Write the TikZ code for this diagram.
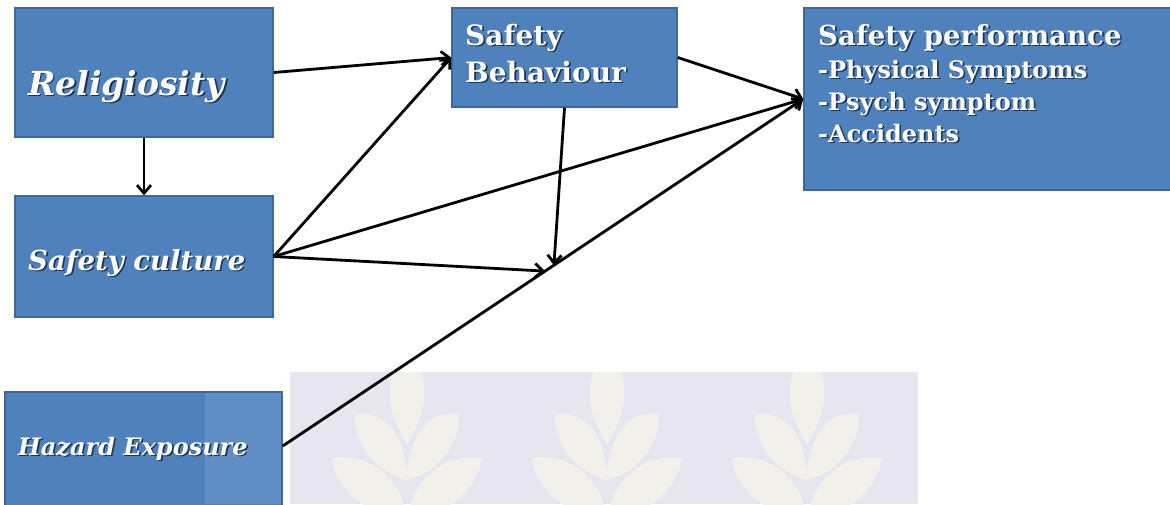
\documentclass[tikz,border=0pt]{standalone}
\usepackage{fontspec}
\setmainfont{DejaVu Serif}
\usetikzlibrary{arrows.meta,calc}

\definecolor{boxblue}{HTML}{4F81BD}
\definecolor{boxedge}{HTML}{3F6899}
\definecolor{wmback}{HTML}{E7E6F0}
\definecolor{wmleaf}{HTML}{F2F0EA}
\definecolor{txtshadow}{HTML}{1F3350}

% white text with a small dark drop shadow
\newcommand\shd[1]{\rlap{\kern1.6pt\raisebox{-1.6pt}{\textcolor{txtshadow}{#1}}}#1}

\tikzset{
  box/.style={draw=boxedge, line width=1.5pt, fill=boxblue, rectangle, inner sep=0pt},
  lbl/.style={anchor=base west, inner sep=0pt, text=white},
  arr/.style={draw=black, line width=2.8pt, -{Straight Barb[length=8pt,width=14pt]}},
  leafshape/.style={fill=wmleaf, draw=none},
}

\begin{document}
\begin{tikzpicture}[x=1pt, y=-1pt]
\useasboundingbox (0,0) rectangle (1170,504);

% faint banner with leaf motif
\begin{scope}
  \clip (290,372) rectangle (918,504);
  \fill[wmback] (290,372) rectangle (918,504);
  \foreach \cx in {407,607,807} {
    \begin{scope}[shift={(\cx,0)}]
      % upright central leaf
      \fill[leafshape] (0,350) .. controls (24,375) and (22,410) .. (0,445)
                              .. controls (-22,410) and (-24,375) .. (0,350);
      % upper side leaves
      \fill[leafshape] (-52,415) .. controls (-20,408) and (0,440) .. (0,480)
                                 .. controls (-32,472) and (-52,445) .. (-52,415);
      \fill[leafshape] (52,415) .. controls (20,408) and (0,440) .. (0,480)
                                .. controls (32,472) and (52,445) .. (52,415);
      % lower spreading leaves
      \fill[leafshape] (-75,458) .. controls (-35,452) and (-5,480) .. (0,520)
                                 .. controls (-42,515) and (-70,490) .. (-75,458);
      \fill[leafshape] (75,458) .. controls (35,452) and (5,480) .. (0,520)
                                .. controls (42,515) and (70,490) .. (75,458);
    \end{scope}
  }
\end{scope}

% boxes
\node[box, minimum width=258pt, minimum height=129pt] (rel) at (144,72.5) {};
\node[box, minimum width=258pt, minimum height=121pt] (sc)  at (144,256.5) {};
\node[box, minimum width=277pt, minimum height=128pt] (haz) at (143.5,456) {};
\fill[white, opacity=0.1] (205,392.75) rectangle (281.25,504);
\node[box, minimum width=225pt, minimum height=99pt]  (sb)  at (564.5,57.5) {};
\node[box, minimum width=376pt, minimum height=182pt] (sp)  at (992,99) {};

% box texts
\node[lbl, font=\fontsize{33}{33}\selectfont\bfseries\itshape] (relT) at (28,95) {\shd{Religiosity}};
\node[lbl, font=\fontsize{27.5}{27.5}\selectfont\bfseries\itshape] (scT) at (28,270) {\shd{Safety culture}};
\node[lbl, font=\fontsize{24}{24}\selectfont\bfseries\itshape] (hazT) at (18,455) {\shd{Hazard Exposure}};
\node[lbl, font=\fontsize{28}{28}\selectfont\bfseries] (sbT1) at (465,45) {\shd{Safety}};
\node[lbl, font=\fontsize{28}{28}\selectfont\bfseries] (sbT2) at (465,82) {\shd{Behaviour}};
\node[lbl, font=\fontsize{27.6}{27.6}\selectfont\bfseries] (spT0) at (818,45) {\shd{Safety performance}};
\node[lbl, font=\fontsize{24}{24}\selectfont\bfseries] (spT1) at (818,78) {\shd{-Physical Symptoms}};
\node[lbl, font=\fontsize{24}{24}\selectfont\bfseries] (spT2) at (818,110) {\shd{-Psych symptom}};
\node[lbl, font=\fontsize{24}{24}\selectfont\bfseries] (spT3) at (818,142) {\shd{-Accidents}};

% connectors
\coordinate (hazOut) at ([yshift=10pt]haz.east);
\coordinate (modA) at ($(hazOut)!0.504!(sp.west)$);
\coordinate (modB) at ($(hazOut)!0.521!(sp.west)$);

\draw[arr] (rel.east) -- (sb.west);
\draw[arr] (rel.south) -- (sc.north);
\draw[arr] (sc.east) -- (sb.west);
\draw[arr] (sc.east) -- (sp.west);
\draw[arr] (sc.east) -- (modA);
\draw[arr] (sb.south) -- (modB);
\draw[arr] (sb.east) -- (sp.west);
\draw[arr] (hazOut) -- (sp.west);
\end{tikzpicture}
\end{document}
